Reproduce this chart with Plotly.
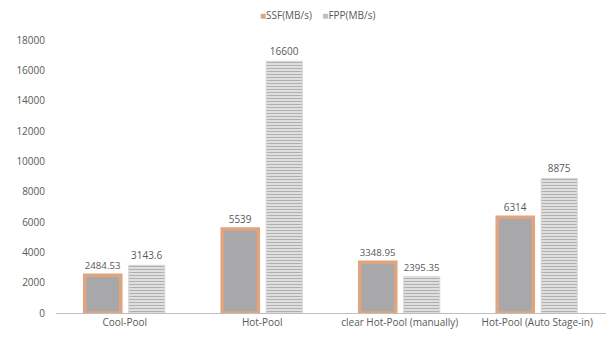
import plotly.graph_objects as go

categories = ["Cool-Pool", "Hot-Pool", "clear Hot-Pool (manually)", "Hot-Pool (Auto Stage-in)"]
series_names = ["SSF(MB/s)", "FPP(MB/s)"]
ssf_values = [2484.53, 5539, 3348.95, 6314]
fpp_values = [3143.6, 16600, 2395.35, 8875]
y_ticks = [0, 2000, 4000, 6000, 8000, 10000, 12000, 14000, 16000, 18000]

text_color = "#595959"
font_family = "Open Sans, Noto Sans, sans-serif"
ssf_fill = "#a8a8aa"
ssf_edge = "#e0a57e"
fpp_key = "#bdbdbd"

fig = go.Figure()
fig.add_trace(go.Bar(
    name=series_names[0],
    x=categories,
    y=ssf_values,
    text=[f"{v:g}" for v in ssf_values],
    textposition="outside",
    cliponaxis=False,
    showlegend=False,
    marker=dict(color=ssf_fill, line=dict(color=ssf_edge, width=3.5)),
))
fig.add_trace(go.Bar(
    name=series_names[1],
    x=categories,
    y=fpp_values,
    text=[f"{v:g}" for v in fpp_values],
    textposition="outside",
    cliponaxis=False,
    showlegend=False,
    marker=dict(
        color="#f2f2f2",
        line=dict(color="#d6d6d6", width=1),
        pattern=dict(shape="-", fgcolor="#b0b0b0", bgcolor="#e4e4e4",
                     size=3, solidity=0.4, fillmode="replace"),
    ),
))

# compact legend line above the plot
legend_text = (
    f"<span style='color:{ssf_edge}'>■</span>{series_names[0]}"
    "&nbsp;&nbsp;&nbsp;&nbsp;"
    f"<span style='color:{fpp_key}'>■</span>{series_names[1]}"
)
fig.add_annotation(
    text=legend_text, xref="paper", yref="paper",
    x=0.476, y=1.09, xanchor="center", yanchor="middle",
    showarrow=False, font=dict(size=10, color=text_color),
)

fig.update_layout(
    width=612,
    height=338,
    margin=dict(l=56, r=6, t=40, b=25),
    paper_bgcolor="white",
    plot_bgcolor="white",
    barmode="group",
    bargap=0.36,
    bargroupgap=0.18,
    showlegend=False,
    font=dict(family=font_family, size=10, color=text_color),
    xaxis=dict(
        showline=True,
        linecolor="#bfbfbf",
        linewidth=1,
        ticks="",
        showgrid=False,
        tickfont=dict(size=10, color=text_color),
    ),
    yaxis=dict(
        range=[0, 18000],
        tickvals=y_ticks,
        ticktext=[str(v) for v in y_ticks],
        showgrid=False,
        zeroline=False,
        showline=False,
        ticks="",
        ticklabelstandoff=10,
        tickfont=dict(size=10, color=text_color),
    ),
)
fig.update_traces(textfont=dict(size=10, color=text_color), selector=dict(type="bar"))

fig.write_html("out.html")
